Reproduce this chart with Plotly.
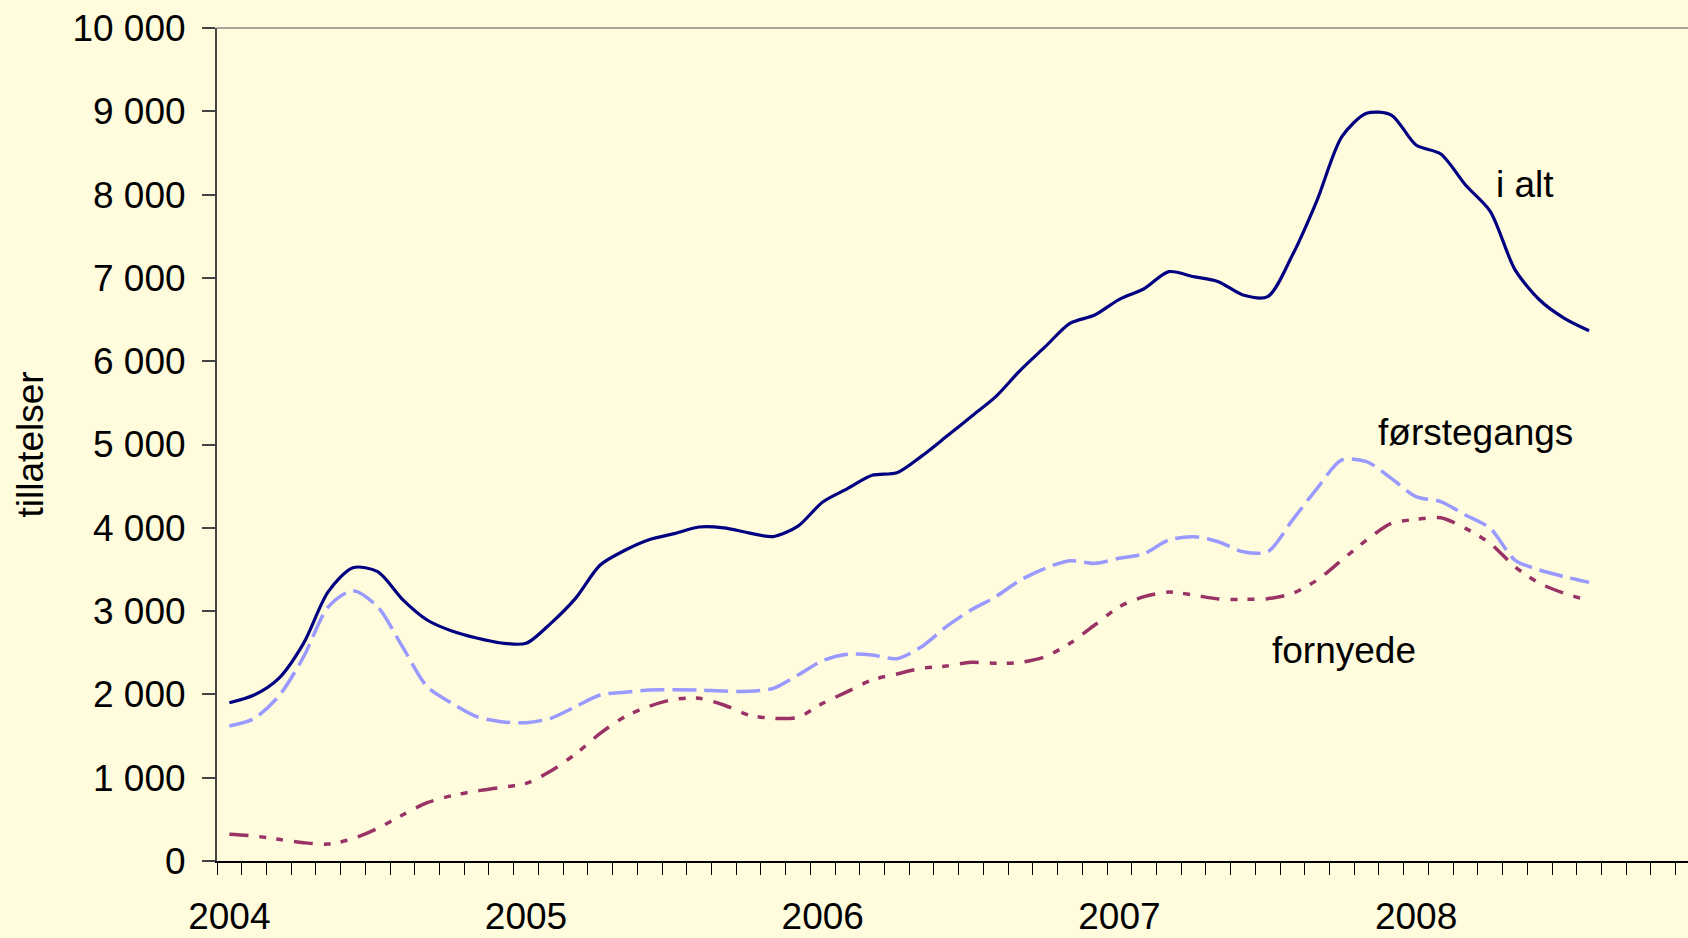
import plotly.graph_objects as go

# Monthly values, Jan 2004 - Aug 2008
i_alt = [1900, 1993, 2193, 2613, 3233, 3521, 3473, 3141, 2893, 2761, 2677, 2617,
         2613, 2853, 3153, 3553, 3730, 3860, 3930, 4010, 4000, 3940, 3895, 4020,
         4310, 4470, 4630, 4660, 4860, 5095, 5334, 5574, 5894, 6174, 6454, 6554,
         6743, 6870, 7075, 7015, 6955, 6795, 6775, 7275, 7935, 8695, 8976, 8955,
         8595, 8487, 8115, 7800, 7100, 6735, 6515, 6366]
forstegangs = [1620, 1710, 1980, 2450, 3050, 3245, 3050, 2573, 2093, 1893, 1733, 1673,
               1661, 1713, 1853, 1993, 2025, 2053, 2055, 2053, 2040, 2037, 2073, 2233,
               2405, 2481, 2473, 2429, 2573, 2813, 3013, 3173, 3373, 3514, 3605, 3573,
               3634, 3690, 3853, 3893, 3833, 3713, 3713, 4093, 4474, 4814, 4794, 4594,
               4374, 4314, 4153, 3993, 3613, 3493, 3413, 3345]
fornyede = [320, 300, 260, 220, 204, 268, 392, 552, 700, 784, 840, 884,
            932, 1080, 1284, 1532, 1732, 1860, 1941, 1953, 1873, 1753, 1713, 1725,
            1893, 2033, 2173, 2245, 2313, 2341, 2385, 2373, 2385, 2453, 2613, 2833,
            3053, 3173, 3229, 3193, 3145, 3141, 3149, 3213, 3373, 3613, 3853, 4053,
            4101, 4121, 3993, 3813, 3533, 3333, 3213, 3125]
months = list(range(len(i_alt)))

year_ticks = [0, 12, 24, 36, 48]
year_labels = ["2004", "2005", "2006", "2007", "2008"]
y_ticks = [0, 1000, 2000, 3000, 4000, 5000, 6000, 7000, 8000, 9000, 10000]
y_labels = ["0", "1 000", "2 000", "3 000", "4 000", "5 000", "6 000", "7 000",
            "8 000", "9 000", "10 000"]

FONT = "Liberation Sans, Arial, sans-serif"
BG = "#FFFBDD"

fig = go.Figure()
fig.add_trace(go.Scatter(x=months, y=i_alt, mode="lines", name="i alt",
                         line=dict(color="#000080", width=3.2, shape="spline", smoothing=0.8)))
fig.add_trace(go.Scatter(x=months, y=forstegangs, mode="lines", name="førstegangs",
                         line=dict(color="#9999FF", width=3.5, shape="spline", smoothing=0.8,
                                   dash="24px,8px")))
fig.add_trace(go.Scatter(x=months, y=fornyede, mode="lines", name="fornyede",
                         line=dict(color="#993366", width=3.5, shape="spline", smoothing=0.8,
                                   dash="19px,11px,7px,10px,7px,11px")))

fig.update_layout(
    width=1688, height=938,
    margin=dict(l=217, r=0, t=28, b=77),
    paper_bgcolor=BG, plot_bgcolor=BG,
    showlegend=False,
    font=dict(family=FONT, size=37, color="black"),
    xaxis=dict(range=[-0.5, 59], showline=True, linecolor="black", linewidth=1.5,
               automargin=False,
               tickmode="array", tickvals=year_ticks, ticktext=year_labels,
               ticks="", ticklabelstandoff=22, showgrid=False, zeroline=False,
               tickfont=dict(family=FONT, size=37, color="black"),
               minor=dict(tickmode="linear", tick0=-0.5, dtick=1, ticks="outside",
                          ticklen=12, tickwidth=1.2, tickcolor="black", showgrid=False)),
    yaxis=dict(range=[0, 10000], showline=True, linecolor="#444", linewidth=2,
               automargin=False,
               tickmode="array", tickvals=y_ticks, ticktext=y_labels,
               ticks="outside", ticklen=13, tickwidth=1.5, tickcolor="#444",
               ticklabelstandoff=9, showgrid=False, zeroline=False,
               tickfont=dict(family=FONT, size=37, color="black")),
    shapes=[dict(type="line", xref="paper", yref="paper", x0=0, x1=1, y0=1, y1=1,
                 line=dict(color="#888888", width=1.5))],
    annotations=[
        dict(text="tillatelser", textangle=-90, xref="paper", yref="paper",
             x=-0.1265, y=0.5, xanchor="center", yanchor="middle", showarrow=False,
             font=dict(family=FONT, size=37, color="black")),
        dict(text="i alt", x=52.4, y=8120, xref="x", yref="y", showarrow=False,
             xanchor="center", yanchor="middle", font=dict(family=FONT, size=37, color="black")),
        dict(text="førstegangs", x=50.4, y=5150, xref="x", yref="y", showarrow=False,
             xanchor="center", yanchor="middle", font=dict(family=FONT, size=37, color="black")),
        dict(text="fornyede", x=45.1, y=2533, xref="x", yref="y", showarrow=False,
             xanchor="center", yanchor="middle", font=dict(family=FONT, size=37, color="black")),
    ],
)

fig.write_html("out.html",
               config={"displayModeBar": False},
               post_script="document.body.style.margin='0px';"
                           "document.body.style.overflow='hidden';"
                           "document.body.style.background='" + BG + "';")
